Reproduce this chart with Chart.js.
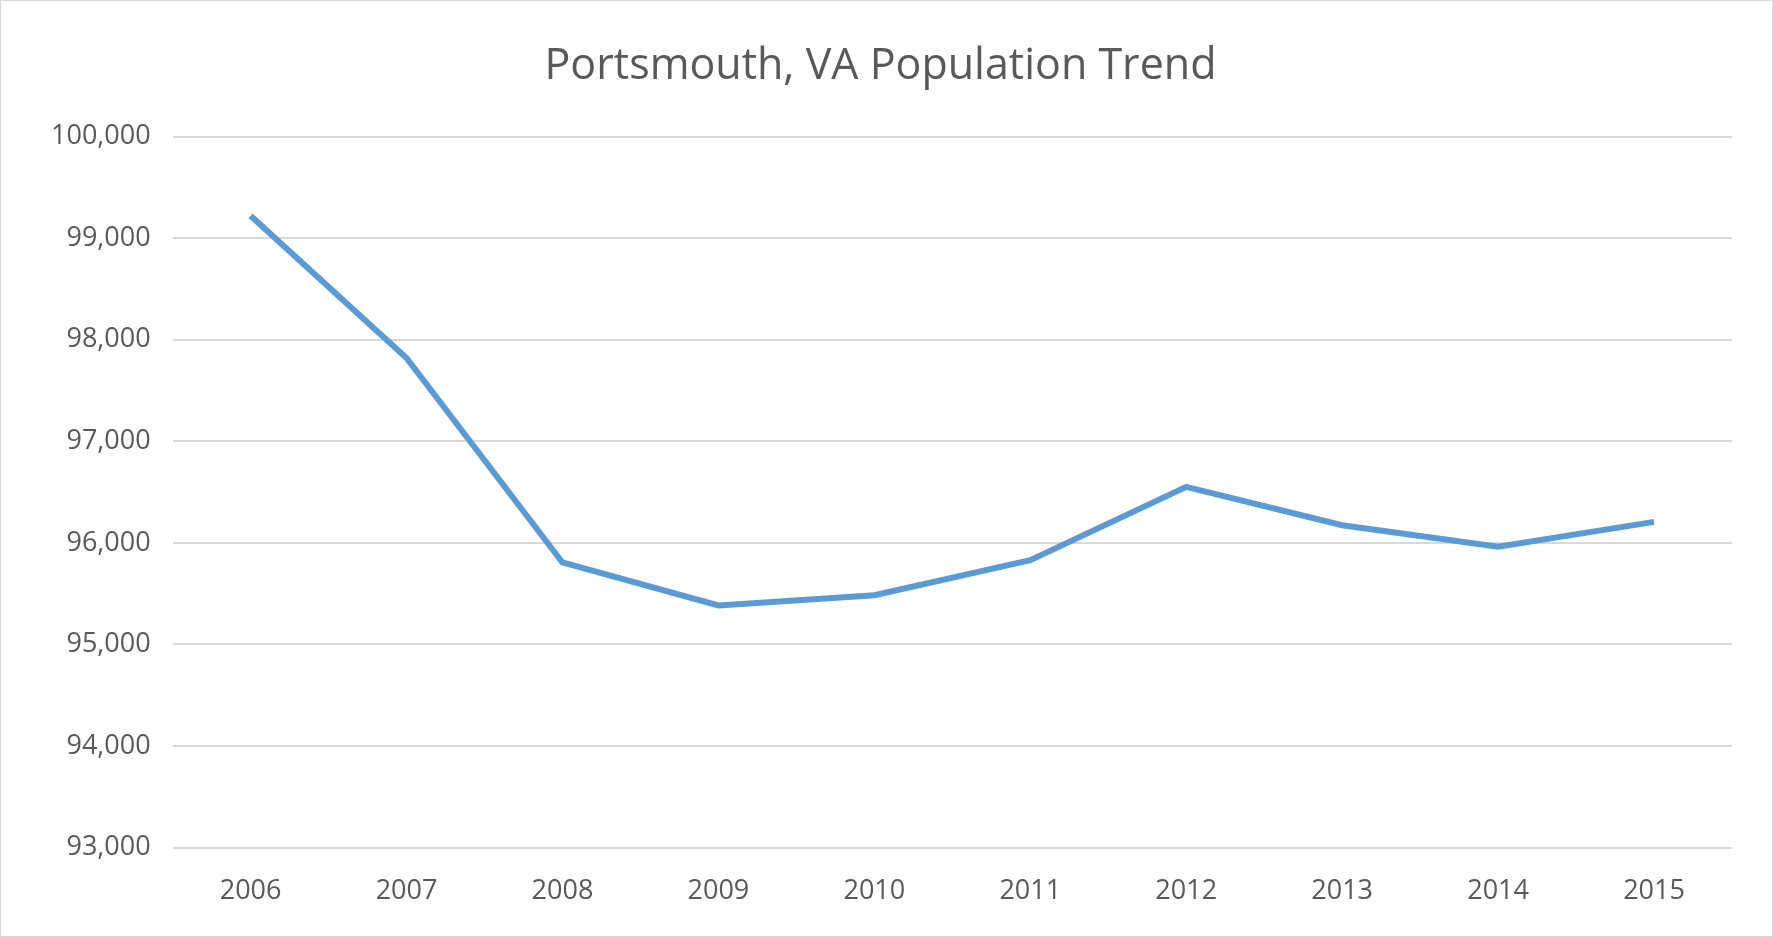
<!DOCTYPE html>
<html>
<head>
<meta charset="utf-8">
<script src="https://cdn.jsdelivr.net/npm/chart.js@4"></script>
<style>
  html, body { margin: 0; padding: 0; background: #fff; }
  #wrap { width: 1771px; height: 935px; border: 1px solid #d9d9d9; }
</style>
</head>
<body>
<div id="wrap"><canvas id="popChart" width="1771" height="935"></canvas></div>
<script>
// Portsmouth population by year
const years = ['2006', '2007', '2008', '2009', '2010', '2011', '2012', '2013', '2014', '2015'];
const population = [99221, 97820, 95807, 95384, 95484, 95829, 96552, 96174, 95963, 96207];

const yMin = 93000;
const yMax = 100000;
const yStep = 1000;

const textColor = '#595959';
const fontFamily = '"Open Sans", "Liberation Sans", sans-serif';

new Chart(document.getElementById('popChart'), {
    type: 'line',
    data: {
        labels: years,
        datasets: [{
            label: 'Population',
            data: population,
            borderColor: '#5B9BD5',
            borderWidth: 6,
            pointRadius: 0,
            tension: 0,
            fill: false
        }]
    },
    options: {
        responsive: false,
        animation: false,
        layout: { padding: { left: 28, right: 40, top: 20, bottom: 8 } },
        plugins: {
            legend: { display: false },
            title: {
                display: true,
                text: 'Portsmouth, VA Population Trend',
                color: textColor,
                font: { family: fontFamily, size: 43, weight: 'normal' },
                padding: { top: 20, bottom: 44 }
            }
        },
        scales: {
            x: {
                offset: true,
                grid: { display: false },
                border: { display: false },
                ticks: { color: textColor, font: { family: fontFamily, size: 27 }, padding: 20 }
            },
            y: {
                min: yMin,
                max: yMax,
                grid: { color: '#d9d9d9', lineWidth: 2, drawTicks: false },
                border: { display: false },
                ticks: {
                    stepSize: yStep,
                    color: textColor,
                    padding: 22,
                    font: { family: fontFamily, size: 27 },
                    callback: v => v.toLocaleString('en-US')
                }
            }
        }
    }
});
</script>
</body>
</html>
